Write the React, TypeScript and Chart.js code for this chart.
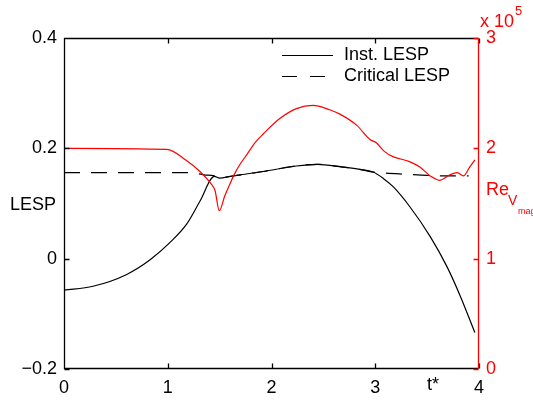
import React, { useEffect, useRef } from "react";
import { Chart, registerables } from "chart.js";

Chart.register(...registerables);

// Instantaneous leading-edge suction parameter vs. nondimensional time t*
const tInst = [0, 0.28, 0.6, 0.83, 1.02, 1.18, 1.31, 1.45, 1.5, 1.6, 1.7, 1.92, 2.24, 2.44, 2.69, 2.85, 2.98, 3.08, 3.17, 3.33, 3.53, 3.69, 3.82, 3.96];
const lespInst = [-0.057, -0.05, -0.029, -0.002, 0.029, 0.062, 0.104, 0.149, 0.146, 0.149, 0.152, 0.158, 0.168, 0.171, 0.166, 0.162, 0.157, 0.145, 0.131, 0.095, 0.04, -0.014, -0.068, -0.134];

// Critical LESP
const tCrit = [0, 1.2, 1.35, 1.45, 1.5, 1.6, 1.7, 1.92, 2.24, 2.44, 2.69, 2.85, 2.98, 3.1, 3.3, 3.5, 3.7, 3.9];
const lespCrit = [0.156, 0.156, 0.152, 0.15, 0.147, 0.149, 0.152, 0.158, 0.168, 0.171, 0.166, 0.162, 0.157, 0.155, 0.153, 0.151, 0.15, 0.15];

// Reynolds number based on velocity magnitude (x 10^5)
const tRe = [0, 0.99, 1.18, 1.31, 1.42, 1.455, 1.497, 1.55, 1.6, 1.65, 1.7, 1.76, 1.84, 1.92, 2.08, 2.24, 2.4, 2.56, 2.66, 2.82, 2.95, 3.01, 3.09, 3.17, 3.33, 3.43, 3.53, 3.62, 3.72, 3.79, 3.85, 3.91, 3.96];
const reV = [2.0, 1.99, 1.89, 1.79, 1.675, 1.62, 1.435, 1.57, 1.68, 1.78, 1.86, 1.94, 2.05, 2.13, 2.27, 2.36, 2.39, 2.35, 2.31, 2.21, 2.08, 2.05, 1.97, 1.925, 1.88, 1.83, 1.75, 1.71, 1.76, 1.78, 1.75, 1.83, 1.895];

const tTicks = [0, 1, 2, 3, 4];
const lespTicks = [-0.2, 0, 0.2, 0.4];
const reTicks = [0, 1, 2, 3];

const seriesLabels = ["Inst. LESP", "Critical LESP", "Re"];

const FONT = '"Liberation Sans", Arial, Helvetica, sans-serif';
const RED = "#ff0000";
const DASH = [16, 11];

const fmtLesp = (v: number) => {
  if (Math.abs(v) < 1e-9) return "0";
  const s = v.toFixed(1);
  return s.replace("-", "\u2212");
};

const pts = (xs: number[], ys: number[]) => xs.map((x, i) => ({ x, y: ys[i] }));

// Box, inward ticks, legend and extra annotations in MATLAB style
const decorPlugin = {
  id: "decor",
  afterDraw(chart: any) {
    const { ctx, chartArea: a, scales } = chart;
    const sx = scales.x;
    const sy = scales.y;
    const sr = scales.y1;
    const L = Math.round(a.left) + 0.5;
    const R = Math.round(a.right) - 0.5;
    const T = Math.round(a.top) + 0.5;
    const B = Math.round(a.bottom) - 0.5;
    const tl = 5;

    ctx.save();
    ctx.lineWidth = 1.3;
    ctx.setLineDash([]);
    ctx.strokeStyle = "#000";
    ctx.beginPath();
    ctx.moveTo(R, T);
    ctx.lineTo(L, T);
    ctx.lineTo(L, B);
    ctx.lineTo(R, B);
    // x ticks, bottom and top, pointing inward
    tTicks.forEach((t) => {
      const px = Math.round(sx.getPixelForValue(t)) + 0.5;
      ctx.moveTo(px, B);
      ctx.lineTo(px, B - tl);
      ctx.moveTo(px, T);
      ctx.lineTo(px, T + tl);
    });
    lespTicks.forEach((v) => {
      const py = Math.round(sy.getPixelForValue(v)) + 0.5;
      ctx.moveTo(L, py);
      ctx.lineTo(L + tl, py);
    });
    ctx.stroke();

    ctx.strokeStyle = RED;
    ctx.beginPath();
    ctx.moveTo(R, T);
    ctx.lineTo(R, B);
    reTicks.forEach((v) => {
      const py = Math.round(sr.getPixelForValue(v)) + 0.5;
      ctx.moveTo(R, py);
      ctx.lineTo(R - tl, py);
    });
    ctx.stroke();

    // legend
    const lx0 = 282;
    const lx1 = 333;
    const rows = [55, 76];
    ctx.lineWidth = 1.2;
    ctx.strokeStyle = "#000";
    ctx.beginPath();
    ctx.moveTo(lx0, rows[0] + 0.5);
    ctx.lineTo(lx1, rows[0] + 0.5);
    ctx.stroke();
    ctx.setLineDash([15, 13]);
    ctx.beginPath();
    ctx.moveTo(lx0, rows[1] + 0.5);
    ctx.lineTo(lx1, rows[1] + 0.5);
    ctx.stroke();
    ctx.setLineDash([]);

    ctx.fillStyle = "#000";
    ctx.textBaseline = "middle";
    ctx.textAlign = "left";
    ctx.font = `18px ${FONT}`;
    ctx.fillText(seriesLabels[0], 344, rows[0]);
    ctx.fillText(seriesLabels[1], 344, rows[1]);

    // left axis label, horizontal
    ctx.textAlign = "center";
    ctx.fillText("LESP", 33, 205);
    // x axis label beside the ticks
    ctx.fillText("t*", 433, a.bottom + 16);

    // right axis: exponent and label
    ctx.fillStyle = RED;
    ctx.textAlign = "left";
    ctx.fillText("x 10", 480, 22);
    ctx.font = `13px ${FONT}`;
    ctx.fillText("5", 515, 11);
    ctx.font = `18px ${FONT}`;
    ctx.fillText("Re", 486, 190);
    ctx.font = `14px ${FONT}`;
    ctx.fillText("V", 508, 201);
    ctx.font = `9px ${FONT}`;
    ctx.fillText("mag", 518, 212);
    ctx.restore();
  },
};

export default function App() {
  const ref = useRef<HTMLCanvasElement | null>(null);

  useEffect(() => {
    document.body.style.margin = "0";
    const canvas = ref.current;
    if (!canvas) return;
    const tickFont = { size: 18, family: FONT };
    const chart = new Chart(canvas, {
      type: "line",
      data: {
        datasets: [
          {
            label: seriesLabels[2],
            data: pts(tRe, reV),
            yAxisID: "y1",
            borderColor: RED,
            borderWidth: 1.2,
            pointRadius: 0,
            fill: false,
            cubicInterpolationMode: "monotone",
          },
          {
            label: seriesLabels[0],
            data: pts(tInst, lespInst),
            yAxisID: "y",
            borderColor: "#000",
            borderWidth: 1.2,
            pointRadius: 0,
            fill: false,
            cubicInterpolationMode: "monotone",
          },
          {
            label: seriesLabels[1],
            data: pts(tCrit, lespCrit),
            yAxisID: "y",
            borderColor: "#000",
            borderWidth: 1.2,
            borderDash: DASH,
            pointRadius: 0,
            fill: false,
            cubicInterpolationMode: "monotone",
          },
        ],
      },
      options: {
        animation: false,
        responsive: false,
        devicePixelRatio: 1,
        events: [],
        layout: { padding: { top: 38, left: 0, right: 0, bottom: 0 } },
        plugins: { legend: { display: false }, tooltip: { enabled: false } },
        scales: {
          x: {
            type: "linear",
            min: 0,
            max: 4,
            grid: { display: false, drawTicks: false },
            border: { display: false },
            ticks: { color: "#000", font: tickFont, padding: 8, maxRotation: 0 },
            afterBuildTicks: (s: any) => {
              s.ticks = tTicks.map((v) => ({ value: v }));
            },
            afterFit: (s: any) => {
              s.height = 31;
            },
          },
          y: {
            type: "linear",
            position: "left",
            min: -0.2,
            max: 0.4,
            grid: { display: false, drawTicks: false },
            border: { display: false },
            ticks: { color: "#000", font: tickFont, padding: 7, callback: (v: any) => fmtLesp(Number(v)) },
            afterBuildTicks: (s: any) => {
              s.ticks = lespTicks.map((v) => ({ value: v }));
            },
            afterFit: (s: any) => {
              s.width = 64;
            },
          },
          y1: {
            type: "linear",
            position: "right",
            min: 0,
            max: 3,
            grid: { display: false, drawTicks: false },
            border: { display: false },
            ticks: { color: RED, font: tickFont, padding: 7 },
            afterBuildTicks: (s: any) => {
              s.ticks = reTicks.map((v) => ({ value: v }));
            },
            afterFit: (s: any) => {
              s.width = 54;
            },
          },
        },
      },
      plugins: [decorPlugin],
    } as any);
    return () => chart.destroy();
  }, []);

  return <canvas ref={ref} width={533} height={400} style={{ display: "block", width: 533, height: 400 }} />;
}
